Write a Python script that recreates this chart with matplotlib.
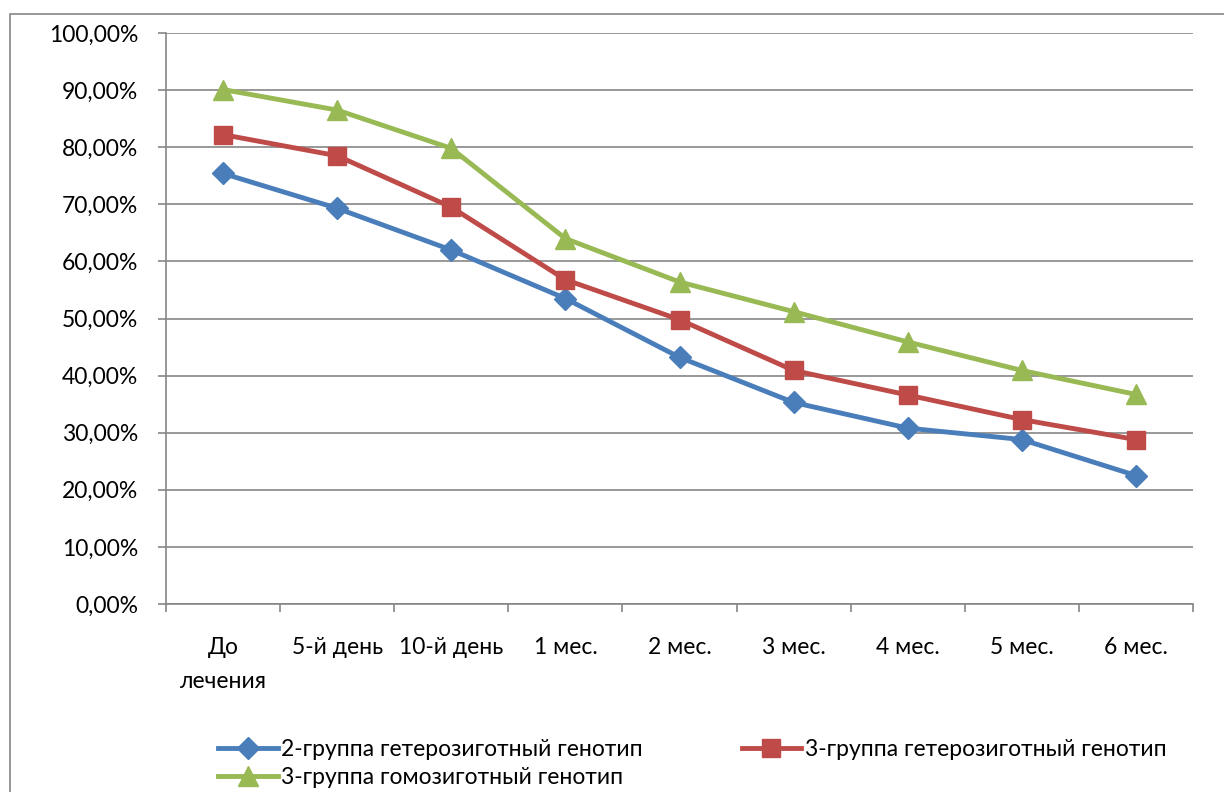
import matplotlib
matplotlib.use('Agg')
import matplotlib.pyplot as plt
from matplotlib.patches import Rectangle
from matplotlib.ticker import FixedLocator, FuncFormatter

plt.rcParams['font.family'] = ['Lato', 'DejaVu Sans']

periods = ['До\nлечения', '5-й день', '10-й день', '1 мес.', '2 мес.',
           '3 мес.', '4 мес.', '5 мес.', '6 мес.']

hetero_2 = [75.4, 69.3, 62.0, 53.5, 43.2, 35.3, 30.8, 28.8, 22.5]
hetero_3 = [82.2, 78.5, 69.5, 56.8, 49.8, 40.9, 36.6, 32.3, 28.8]
homo_3 = [90.1, 86.5, 79.8, 64.0, 56.4, 51.2, 45.9, 40.9, 36.7]

series_names = ['2-группа гетерозиготный генотип',
                '3-группа гетерозиготный генотип',
                '3-группа гомозиготный генотип']

fig = plt.figure(figsize=(12.24, 7.92), dpi=100)

# рамка области диаграммы
fig.patches.append(Rectangle((10 / 1224, -0.1), 1.2, 1 - 14 / 792 + 0.1,
                             transform=fig.transFigure, fill=False,
                             edgecolor='#868686', linewidth=1.2))

ax = fig.add_axes([166 / 1224, 1 - 604 / 792, (1193 - 166) / 1224, (604 - 33) / 792])

x = list(range(len(periods)))
grid_c = '#868686'

l1, = ax.plot(x, hetero_2, color='#4a7ebb', linewidth=3.5, marker='D', markersize=11,
              label=series_names[0], zorder=3)
l2, = ax.plot(x, hetero_3, color='#be4b48', linewidth=3.5, marker='s', markersize=13,
              label=series_names[1], zorder=3)
l3, = ax.plot(x, homo_3, color='#98b954', linewidth=3.5, marker='^', markersize=14,
              label=series_names[2], zorder=3)

ax.set_xlim(-0.5, len(periods) - 0.5)
ax.set_ylim(0, 100)
ax.set_yticks(range(0, 101, 10))
ax.yaxis.set_major_formatter(FuncFormatter(lambda v, p: f'{v:.2f}%'.replace('.', ',')))
ax.set_xticks(x)
ax.set_xticklabels(periods, linespacing=1.75)
ax.xaxis.set_minor_locator(FixedLocator([i - 0.5 for i in range(len(periods) + 1)]))

ax.tick_params(axis='y', length=6, width=1.2, color=grid_c, pad=14, labelsize=16.5)
ax.tick_params(axis='x', which='major', length=0, pad=24, labelsize=16.5)
ax.tick_params(axis='x', which='minor', length=6, width=1.2, color=grid_c)

ax.grid(axis='y', color=grid_c, linewidth=1.2)
ax.set_axisbelow(True)
for side in ['top', 'right']:
    ax.spines[side].set_visible(False)
for side in ['left', 'bottom']:
    ax.spines[side].set_color(grid_c)
    ax.spines[side].set_linewidth(1.2)

# порядок: столбцы заполняются сверху вниз
fig.legend(handles=[l1, l3, l2], ncol=2, frameon=False, fontsize=16.5,
           loc='upper left', bbox_to_anchor=(207 / 1224, 1 - 728 / 792),
           handlelength=2.6, handletextpad=0.15, columnspacing=4.3,
           labelspacing=0.3, borderpad=0)

fig.savefig('out.png', dpi=100)
